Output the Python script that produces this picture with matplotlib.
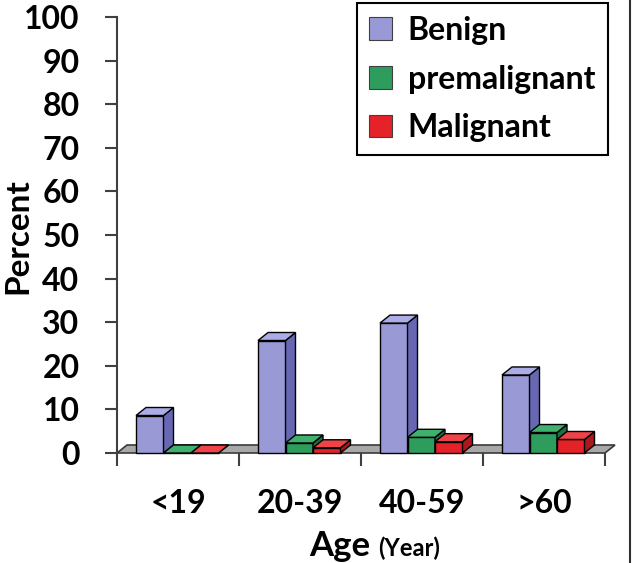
import matplotlib
matplotlib.use('Agg')
import matplotlib.pyplot as plt
from matplotlib.patches import Polygon, Patch
from matplotlib.lines import Line2D

categories = ['<19', '20-39', '40-59', '>60']
series_names = ['Benign', 'premalignant', 'Malignant']
benign = [8.6, 25.8, 29.8, 17.9]
premalignant = [0.0, 2.3, 3.6, 4.7]
malignant = [0.0, 1.2, 2.6, 3.1]
yticks = [0, 10, 20, 30, 40, 50, 60, 70, 80, 90, 100]

front_colors = ['#9999D6', '#2E9C5C', '#E52228']
side_colors = ['#6767B3', '#1E7042', '#A8181D']
top_colors = ['#ACACE6', '#3FB06E', '#F04348']

FONT = ['Lato', 'DejaVu Sans']

W, H = 632, 563
fig = plt.figure(figsize=(W / 100, H / 100), dpi=100)
px_per_cat = 122.0
ax_w_px = 500
ax = fig.add_axes([117 / W, 110 / H, ax_w_px / W, 436 / H])
ax.set_xlim(-0.5, -0.5 + ax_w_px / px_per_cat)
ax.set_ylim(0, 100)

# depth offsets in data units
px_per_unit_y = 436 / 100.0
dx = 10 / px_per_cat
dy = 8 / px_per_unit_y

n = len(categories)
# floor
floor = Polygon([(-0.5, 0), (n - 0.5, 0), (n - 0.5 + dx, dy), (-0.5 + dx, dy)],
                closed=True, facecolor='#A8A8A8', edgecolor='#3A3A3A', lw=1.2,
                zorder=1, clip_on=False)
ax.add_patch(floor)

bar_w = 27.5 / px_per_cat
start = -0.5 + 19 / px_per_cat
series = [benign, premalignant, malignant]
for j, vals in enumerate(series):
    lefts = [i + start + j * bar_w for i in range(n)]
    ax.bar(lefts, vals, width=bar_w, align='edge', color=front_colors[j],
           edgecolor='black', lw=1.0, zorder=3 + j, clip_on=False)
    for xl, v in zip(lefts, vals):
        xr = xl + bar_w
        side = Polygon([(xr, 0), (xr + dx, dy), (xr + dx, v + dy), (xr, v)],
                       closed=True, facecolor=side_colors[j], edgecolor='black',
                       lw=1.0, zorder=3 + j, clip_on=False)
        top = Polygon([(xl, v), (xr, v), (xr + dx, v + dy), (xl + dx, v + dy)],
                      closed=True, facecolor=top_colors[j], edgecolor='black',
                      lw=1.0, zorder=3 + j, clip_on=False)
        ax.add_patch(side)
        ax.add_patch(top)

for s in ['top', 'right', 'bottom']:
    ax.spines[s].set_visible(False)
ax.spines['left'].set_color('#404040')
ax.spines['left'].set_linewidth(1.5)

ax.set_yticks(yticks)
ax.set_yticklabels([str(t) for t in yticks], fontsize=23, fontweight='bold',
                   family=FONT)
ax.tick_params(axis='y', length=9, width=1.5, color='#404040', pad=18)

ax.set_xticks(range(n))
ax.set_xticklabels(categories, fontsize=23, fontweight='bold', family=FONT)
ax.set_xticks([i - 0.5 for i in range(n + 1)], minor=True)
ax.tick_params(axis='x', which='major', length=0, pad=26)
ax.tick_params(axis='x', which='minor', length=9, width=1.5, color='#404040')

fig.text(18 / W, 1 - 236 / H, 'Percent', rotation=90, ha='center', va='center',
         fontsize=24, fontweight='bold', family=FONT)
fig.text(370 / W, 1 - 546 / H, 'Age', ha='right', va='center',
         fontsize=25, fontweight='bold', family=FONT)
fig.text(378 / W, 1 - 548 / H, '(Year)', ha='left', va='center',
         fontsize=17, fontweight='bold', family=FONT)

handles = [Patch(facecolor=front_colors[j], edgecolor='#404040', lw=0.8)
           for j in range(3)]
leg = fig.legend(handles, series_names, loc='upper right',
                 bbox_to_anchor=(608 / W, 1 - 3 / H), frameon=True,
                 fancybox=False, edgecolor='black', framealpha=1,
                 prop={'family': FONT, 'weight': 'bold', 'size': 23},
                 handlelength=0.7, handleheight=0.7, handletextpad=0.5,
                 labelspacing=0.62, borderpad=0.4, borderaxespad=0)
leg.get_frame().set_linewidth(1.5)

fig.add_artist(Line2D([629.5 / W, 629.5 / W], [0, 1], color='#303030', lw=1.5))

fig.savefig('out.png', dpi=100)
